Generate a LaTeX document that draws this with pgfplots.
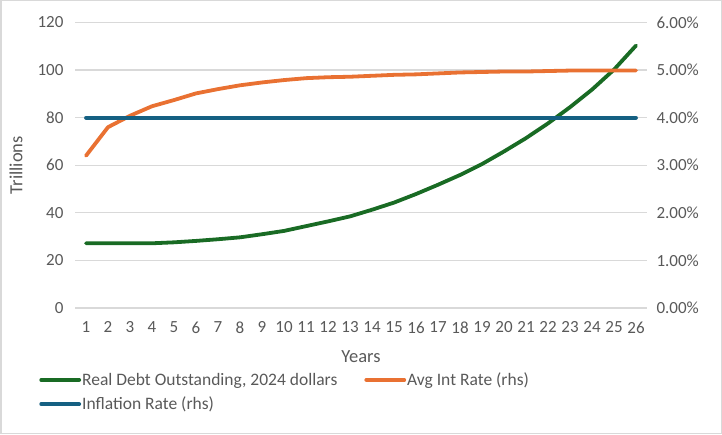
\documentclass[border=0pt]{standalone}
\usepackage{pgfplots}
\pgfplotsset{compat=1.18}
\usepackage{fontspec}
\setmainfont{Carlito}
\definecolor{cgreen}{HTML}{196B24}
\definecolor{corange}{HTML}{E97132}
\definecolor{cblue}{HTML}{156082}
\definecolor{cgrid}{HTML}{D9D9D9}
\definecolor{ctext}{HTML}{595959}
\begin{document}
\begin{tikzpicture}
\draw[cgrid, line width=1.5pt] (0.75pt,0.75pt) rectangle (721.25pt,433.25pt);
\pgfplotsset{
  every axis/.append style={
    scale only axis, width=572pt, height=285.5pt,
    at={(75pt,126pt)}, anchor=south west,
    xmin=0.5, xmax=26.5,
    xtick={1,...,26},
    major tick length=0pt,
    axis line style={draw=none},
    tick label style={font=\fontsize{17}{20}\selectfont, text=ctext},
    label style={font=\fontsize{18.5}{22}\selectfont, text=ctext},
    /pgf/number format/assume math mode=true,
  }
}
\begin{axis}[
  ymin=0, ymax=120, ytick={0,20,...,120},
  ymajorgrids, grid style={cgrid, line width=1.3pt},
  xlabel={Years}, ylabel={Trillions},
  xticklabel style={yshift=-10pt},
  yticklabel style={xshift=-8pt},
  xlabel style={at={(axis description cs:0.5,-0.172)}, anchor=center},
  ylabel style={at={(axis description cs:-0.103,0.5)}, anchor=center},
]
\addplot[cgreen, line width=3.8pt, line join=round, line cap=round] coordinates {
(1,27.2)(2,27.2)(3,27.2)(4,27.2)(5,27.6)(6,28.2)(7,28.9)(8,29.7)(9,31.0)(10,32.4)
(11,34.4)(12,36.4)(13,38.5)(14,41.3)(15,44.3)(16,47.9)(17,51.8)(18,55.9)(19,60.5)(20,65.8)
(21,71.4)(22,77.6)(23,84.4)(24,91.8)(25,100.2)(26,110.3)};
\end{axis}
\begin{axis}[
  ymin=0, ymax=6, ytick={0,1,...,6},
  axis y line*=right, axis x line=none,
  xticklabels={},
  yticklabel={\pgfmathprintnumber[fixed,fixed zerofill,precision=2]{\tick}\%},
  yticklabel style={xshift=6pt},
  legend columns=2,
  legend style={draw=none, fill=none, font=\fontsize{17.5}{20}\selectfont, text=ctext,
    at={(axis description cs:-0.068,-0.212)}, anchor=north west,
    row sep=6pt,
    /tikz/every even column/.append style={column sep=26pt},
    nodes={inner xsep=1pt}},
  legend cell align=left,
  legend image code/.code={\draw[#1, line cap=round] (0pt,0pt) -- (38pt,0pt);},
]
\addlegendimage{cgreen, line width=3.8pt}
\addlegendentry{Real Debt Outstanding, 2024 dollars}
\addplot[corange, line width=3.8pt, line join=round, line cap=round] coordinates {
(1,3.20)(2,3.80)(3,4.04)(4,4.24)(5,4.37)(6,4.51)(7,4.60)(8,4.68)(9,4.74)(10,4.79)
(11,4.83)(12,4.85)(13,4.86)(14,4.88)(15,4.90)(16,4.91)(17,4.93)(18,4.95)(19,4.96)(20,4.97)
(21,4.97)(22,4.98)(23,4.99)(24,4.99)(25,4.99)(26,4.99)};
\addlegendentry{Avg Int Rate (rhs)}
\addplot[cblue, line width=3.8pt, line cap=round] coordinates {
(1,4)(2,4)(3,4)(4,4)(5,4)(6,4)(7,4)(8,4)(9,4)(10,4)(11,4)(12,4)(13,4)
(14,4)(15,4)(16,4)(17,4)(18,4)(19,4)(20,4)(21,4)(22,4)(23,4)(24,4)(25,4)(26,4)};
\addlegendentry{Inflation Rate (rhs)}
\end{axis}
\end{tikzpicture}
\end{document}
